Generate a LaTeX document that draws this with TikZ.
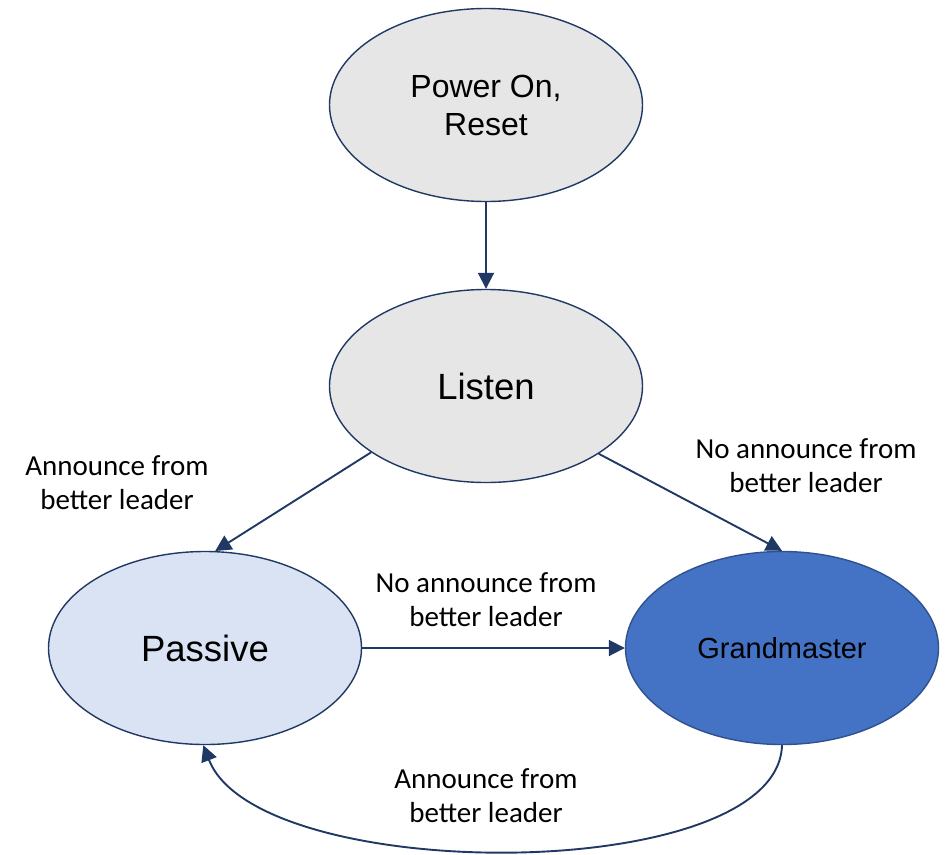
\documentclass[tikz,border=0pt]{standalone}
\usepackage{fontspec}
\setmainfont{Liberation Sans}
\newfontfamily\labelfont{Carlito}
\usetikzlibrary{shapes.geometric,arrows.meta}

\definecolor{edgeblue}{HTML}{203864}
\definecolor{stategrey}{HTML}{E7E6E6}
\definecolor{paleblue}{HTML}{DAE3F3}
\definecolor{gmblue}{HTML}{4472C4}
\definecolor{gmborder}{HTML}{2F528F}

\tikzset{
  state/.style={ellipse, draw=edgeblue, line width=1.4pt, inner sep=0pt,
    minimum width=313pt, minimum height=193pt, align=center, text=black},
  trans/.style={draw=edgeblue, line width=1.9pt,
    -{Triangle[length=16pt,width=16pt]}},
  cond/.style={align=center, font=\labelfont\fontsize{29}{34}\selectfont, text=black},
}

\begin{document}
\begin{tikzpicture}[x=1pt,y=-1pt]
  \useasboundingbox (0,0) rectangle (947,854);

  % states
  \node[state, fill=stategrey, font=\fontsize{32}{38}\selectfont] (pwr) at (486,105) {Power On,\\Reset};
  \node[state, fill=stategrey, font=\fontsize{36.5}{40}\selectfont] (lst) at (486,386) {Listen};
  \node[state, fill=paleblue, font=\fontsize{36.5}{40}\selectfont] (pas) at (205,648) {Passive};
  \node[state, fill=gmblue, draw=gmborder, font=\fontsize{29}{34}\selectfont] (gm) at (782,648) {Grandmaster};

  % transitions
  \draw[trans] (pwr.south) -- (lst.north);
  \draw[trans] (lst.210.9) -- (pas.84);
  \draw[trans] (lst.329.1) -- (gm.north);
  \draw[trans] (pas.east) -- (gm.west);
  \draw[trans] (gm.south) .. controls (778,886) and (258,886) .. (pas.269);

  % transition conditions
  \node[cond] (c1) at (117,483) {Announce from\\better leader};
  \node[cond] (c2) at (806,466) {No announce from\\better leader};
  \node[cond] (c3) at (486,600) {No announce from\\better leader};
  \node[cond] (c4) at (486,796) {Announce from\\better leader};
\end{tikzpicture}
\end{document}
